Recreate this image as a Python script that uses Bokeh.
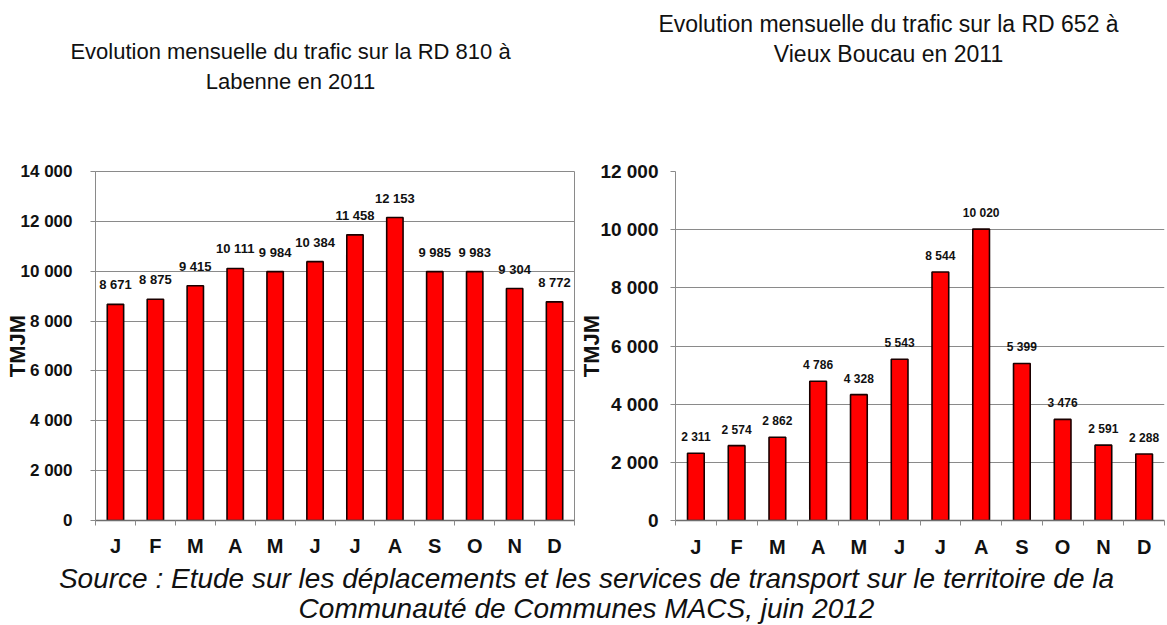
from bokeh.plotting import figure
from bokeh.models import FixedTicker, Label, Range1d, ColumnDataSource
from bokeh.layouts import column, row
from bokeh.embed import file_html
from bokeh.resources import INLINE
from bokeh.core.properties import value

# ---------------- data ----------------
months = ["J", "F", "M", "A", "M", "J", "J", "A", "S", "O", "N", "D"]
labenne_values = [8671, 8875, 9415, 10111, 9984, 10384, 11458, 12153, 9985, 9983, 9304, 8772]
vieux_boucau_values = [2311, 2574, 2862, 4786, 4328, 5543, 8544, 10020, 5399, 3476, 2591, 2288]
labenne_ticks = [0, 2000, 4000, 6000, 8000, 10000, 12000, 14000]
vieux_boucau_ticks = [0, 2000, 4000, 6000, 8000, 10000, 12000]
labenne_title = ["Evolution mensuelle du trafic sur la RD 810 à", "Labenne en 2011"]
vieux_boucau_title = ["Evolution mensuelle du trafic sur la RD 652 à", "Vieux Boucau en 2011"]
y_label = "TMJM"
source_lines = [
    "Source : Etude sur les déplacements et les services de transport sur le territoire de la",
    "Communauté de Communes MACS, juin 2012",
]

SANS = "Liberation Sans"
GRID = "#8a8a8a"
INK = "#111111"
HEAD_H = 100
ROW_H = 462


def fmt(v):
    return f"{v:,}".replace(",", " ")


def blank(width, height):
    f = figure(width=width, height=height, x_range=Range1d(0, width), y_range=Range1d(0, height),
               output_backend="svg", toolbar_location=None, title=None,
               min_border=0, min_border_left=0, min_border_right=0,
               min_border_top=0, min_border_bottom=0)
    f.axis.visible = False
    f.grid.grid_line_color = None
    f.outline_line_color = None
    f.background_fill_color = "white"
    f.border_fill_color = "white"
    return f


def header(width, lines, cx, y_first, gap, size):
    h = blank(width, HEAD_H)
    for i, line in enumerate(lines):
        h.add_layout(Label(x=cx, y=y_first - gap * i, text=line, text_align="center",
                           text_baseline="middle", text_font=SANS, text_font_size=size,
                           text_color=INK))
    return h


def make_chart(values, ticks, width, b_left, b_right, b_top, b_bottom,
               tick_size, tick_standoff, ylab_standoff, bar_width,
               label_size, label_offset, month_standoff, outline):
    n = len(months)
    centers = [i + 0.5 for i in range(n)]
    src = ColumnDataSource(dict(x=centers, top=values, label=[fmt(v) for v in values]))
    p = figure(width=width, height=ROW_H, x_range=Range1d(0, n), y_range=Range1d(0, ticks[-1]),
               output_backend="svg", toolbar_location=None, title=None,
               min_border_left=b_left, min_border_right=b_right,
               min_border_top=b_top, min_border_bottom=b_bottom)
    p.background_fill_color = "white"
    p.border_fill_color = "white"
    p.outline_line_color = outline

    p.vbar(x="x", top="top", width=bar_width, source=src, fill_color="#ff0000",
           line_color="#1a0000", line_width=1.6)
    p.text(x="x", y="top", text="label", source=src, text_align="center",
           text_baseline="bottom", y_offset=-label_offset,
           text_font=value(SANS), text_font_style="bold", text_font_size=label_size,
           text_color=INK)

    # x axis: month labels at centres, tick marks between months
    xa = p.xaxis[0]
    xa.ticker = FixedTicker(ticks=centers, minor_ticks=list(range(n + 1)))
    xa.major_label_overrides = {c: m for c, m in zip(centers, months)}
    xa.major_tick_out = 0
    xa.major_tick_in = 0
    xa.minor_tick_out = 5
    xa.minor_tick_in = 0
    xa.minor_tick_line_color = GRID
    xa.axis_line_color = "#6e6e6e"
    xa.axis_line_width = 1.5
    xa.major_label_standoff = month_standoff
    xa.major_label_text_font = SANS
    xa.major_label_text_font_style = "bold"
    xa.major_label_text_font_size = "20px"
    xa.major_label_text_color = INK

    # y axis
    ya = p.yaxis[0]
    ya.ticker = FixedTicker(ticks=ticks, minor_ticks=[])
    ya.major_label_overrides = {t: fmt(t) for t in ticks}
    ya.major_tick_out = 5
    ya.major_tick_in = 0
    ya.major_tick_line_color = GRID
    ya.axis_line_color = GRID
    ya.major_label_standoff = tick_standoff
    ya.major_label_text_font = SANS
    ya.major_label_text_font_style = "bold"
    ya.major_label_text_font_size = tick_size
    ya.major_label_text_color = INK
    ya.axis_label = y_label
    ya.axis_label_text_font = SANS
    ya.axis_label_text_font_style = "bold"
    ya.axis_label_text_font_size = "22px"
    ya.axis_label_text_color = INK
    ya.axis_label_standoff = ylab_standoff

    p.xgrid.grid_line_color = None
    p.ygrid.ticker = FixedTicker(ticks=ticks)
    p.ygrid.grid_line_color = GRID
    p.ygrid.grid_line_width = 1
    return p


left_head = header(576, labenne_title, cx=290, y_first=49, gap=30, size="22px")
right_head = header(591, vieux_boucau_title, cx=312, y_first=77, gap=30, size="23px")

left = make_chart(labenne_values, labenne_ticks, width=576,
                  b_left=95, b_right=2, b_top=71, b_bottom=40,
                  tick_size="17px", tick_standoff=18, ylab_standoff=-12, bar_width=0.41,
                  label_size="13px", label_offset=12, month_standoff=9, outline=GRID)
right = make_chart(vieux_boucau_values, vieux_boucau_ticks, width=591,
                   b_left=96, b_right=3, b_top=56, b_bottom=42,
                   tick_size="19px", tick_standoff=12, ylab_standoff=-7, bar_width=0.41,
                   label_size="12px", label_offset=9, month_standoff=10, outline=None)

SRC_H = 625 - HEAD_H - ROW_H
src_fig = blank(1167, SRC_H)
for i, line in enumerate(source_lines):
    src_fig.add_layout(Label(x=586, y=SRC_H - 16 - 30 * i, text=line, text_align="center",
                             text_baseline="middle", text_font=SANS, text_font_style="italic",
                             text_font_size="28px", text_color=INK))

layout = column(row(left_head, right_head, spacing=0),
                row(left, right, spacing=0),
                src_fig, spacing=0)

open("out.html", "w").write(file_html(layout, INLINE))
